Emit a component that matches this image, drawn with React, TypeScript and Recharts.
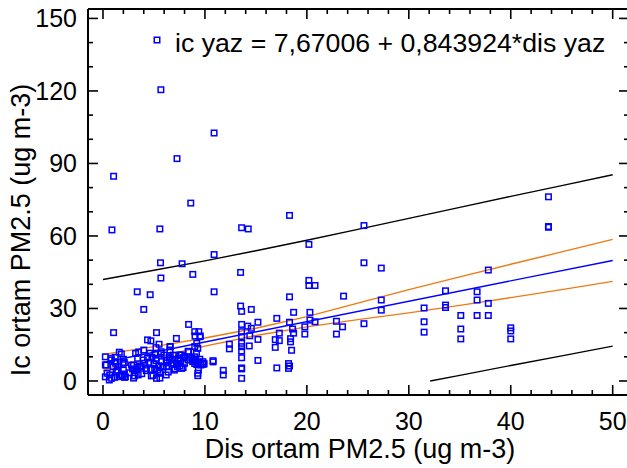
import React from 'react';
import { ScatterChart, Scatter, XAxis, YAxis } from 'recharts';

// Observed points: outdoor (dis) vs indoor (ic) PM2.5
const obsX = [
  5.68, 10.9, 7.26, 1.04, 8.61, 18.3, 0.88, 5.58, 13.6, 14.25, 20.2, 10.9, 5.64, 7.76, 8.81, 5.68, 13.5,
  20.2, 20.2, 20.8, 3.36, 4.63, 10.9, 18.3, 23.6, 4.0, 13.5, 13.6, 14.55, 18.7, 8.4, 1.04, 5.25, 20.3,
  20.8, 17.05, 15.2, 22.9, 23.5, 22.9, 18.3, 19.8, 19.8, 20.3, 13.6, 14.2, 14.55, 9.0, 9.4, 9.55, 7.2,
  9.03, 13.6, 13.6, 14.4, 14.35, 18.6, 18.7, 17.3, 15.2, 16.9, 17.3, 16.9, 18.4, 18.4, 18.5, 12.4, 12.4,
  13.6, 13.6, 13.6, 13.6, 15.2, 18.2, 18.2, 18.3, 17.05, 13.6, 13.6, 13.6, 11.8, 11.8, 10.8, 10.8, 9.9,
  9.36, 9.3, 8.35, 6.4,
  43.7, 43.7, 43.7, 25.6, 25.6, 27.3, 37.8, 25.6, 27.3, 27.3, 31.5, 31.5, 31.5, 33.6, 33.6, 33.6, 35.1,
  35.1, 35.1, 36.7, 36.7, 36.7, 37.8, 37.8, 40.0, 40.0, 40.0,
  0.23, 0.23, 0.23, 0.62, 0.85, 0.8, 1.0, 1.24, 1.34, 1.6, 1.8, 1.57, 1.9, 2.0, 2.1, 2.0, 1.45, 2.2, 2.1,
  3.0, 3.0, 3.2, 3.5, 3.06, 3.4, 3.45, 3.6, 3.95, 4.1, 4.24, 4.37, 4.5, 4.67, 4.9, 5.0, 5.1, 5.2, 5.25,
  5.35, 5.48, 5.58, 5.58, 5.7, 5.74, 5.87, 5.97, 6.23, 6.23, 6.6, 6.6, 6.9, 7.0, 7.05, 7.2, 7.4, 7.53,
  7.7, 7.86, 8.0, 8.4, 8.7, 8.84, 9.0, 9.1, 9.17, 9.3, 9.5, 9.2, 9.0, 9.5, 9.9,
  4.37, 4.7, 5.5, 5.2, 4.0, 4.6, 5.7, 7.55, 6.57, 6.57, 6.2, 6.4, 8.8, 9.0, 9.2, 9.4, 9.6, 9.1, 9.8,
  7.3, 7.6, 7.9, 6.8, 2.6, 2.9, 1.2, 0.4, 4.8, 3.8,
  0.81, 0.33, 1.15, 1.47, 1.96, 1.3, 0.66, 1.15, 1.8, 2.1, 2.8, 3.27, 3.1, 3.76, 4.25, 4.74, 5.07, 5.56,
  5.9, 6.2, 6.87, 7.0, 7.7, 8.0, 8.34, 9.0, 9.3, 9.8, 9.3, 6.5, 3.4, 5.2, 7.35,
];
const obsY = [
  120.5, 102.6, 92.0, 84.7, 73.6, 68.5, 62.5, 62.9, 63.4, 62.9, 56.5, 52.3, 48.9, 48.5, 44.1, 42.6, 44.9,
  41.6, 39.5, 39.5, 36.9, 35.7, 36.9, 34.8, 35.1, 29.6, 31.0, 28.8, 29.6, 28.4, 23.4, 20.0, 20.0, 28.4,
  24.5, 25.9, 24.3, 24.7, 22.4, 19.4, 24.3, 22.4, 19.4, 25.2, 23.4, 22.7, 21.8, 20.4, 20.4, 18.6, 17.6,
  18.6, 20.4, 18.3, 18.7, 14.5, 21.5, 19.8, 19.8, 17.2, 17.1, 16.7, 13.9, 17.5, 16.2, 12.7, 15.2, 13.3,
  15.6, 14.2, 12.4, 9.6, 8.5, 7.2, 5.2, 6.2, 5.4, 5.4, 5.0, 1.1, 4.4, 2.5, 8.4, 7.9, 7.3,
  4.5, 2.2, 12.3, 3.7,
  76.2, 63.6, 63.9, 64.3, 48.9, 46.7, 45.9, 23.7, 33.5, 29.3, 30.2, 24.5, 20.2, 37.3, 31.4, 30.4, 27.1,
  21.5, 17.4, 36.9, 33.5, 27.1, 32.1, 27.1, 22.0, 20.7, 17.4,
  10.0, 6.6, 1.7, 0.4, 1.1, 8.7, 5.9, 7.3, 3.8, 11.9, 11.2, 1.8, 2.1, 9.0, 7.6, 4.5, 4.5, 1.7, 2.9,
  1.2, 6.6, 11.4, 12.0, 4.3, 5.6, 2.5, 6.2, 8.7, 7.3, 5.2, 9.5, 7.7, 4.8, 2.3, 7.0, 11.2, 8.4, 1.1,
  4.5, 6.3, 3.2, 1.2, 11.4, 8.0, 5.9, 10.7, 5.9, 8.7, 14.2, 10.0, 10.7, 8.7, 5.1, 7.3, 9.4, 6.2,
  10.7, 5.5, 10.0, 12.1, 9.4, 8.7, 10.0, 8.3, 11.4, 13.5, 9.0, 15.6, 14.2, 18.3, 7.0,
  17.0, 16.6, 15.2, 13.8, 12.8, 11.5, 12.1, 10.8, 14.2, 12.8, 7.5, 6.0, 8.0, 7.2, 6.8, 7.6, 6.6, 8.7, 6.9,
  6.0, 8.2, 9.6, 9.0, 3.4, 5.0, 9.8, 3.2, 9.8, 3.0,
  9.4, 6.6, 8.0, 5.9, 7.3, 3.8, 2.5, 1.5, 2.5, 1.5, 6.6, 4.8, 2.1, 5.9, 4.3, 2.1, 5.2, 3.8,
  5.9, 2.5, 7.3, 4.5, 5.2, 7.3, 8.7, 8.7, 7.0, 8.0, 3.2, 9.4, 9.4, 9.4, 8.7,
];

// Fitted line: ic yaz = 7,67006 + 0,843924*dis yaz
const fitX = [0, 50];
const fitY = [7.67, 49.87];

// Confidence band (orange)
const bandX = [0, 5, 10, 15, 20, 25, 30, 35, 40, 45, 50];
const confUpper = [11.0, 14.2, 17.8, 21.8, 26.6, 32.2, 37.8, 43.1, 48.3, 53.4, 58.6];
const confLower = [4.4, 9.6, 14.4, 18.8, 22.4, 25.4, 28.2, 31.3, 34.5, 37.8, 41.2];

// Prediction band (black)
const predUpper = [42.0, 45.8, 49.7, 53.9, 58.2, 62.7, 67.3, 71.8, 76.4, 80.8, 85.3];
const predLowerX = [32.1, 35, 40, 45, 50];
const predLower = [0, 2.3, 6.4, 10.4, 14.4];

const xTicks = [0, 2, 4, 6, 8, 10, 12, 14, 16, 18, 20, 22, 24, 26, 28, 30, 32, 34, 36, 38, 40, 42, 44, 46, 48, 50];
const yTicks = [0, 10, 20, 30, 40, 50, 60, 70, 80, 90, 100, 110, 120, 130, 140, 150];

const legendText = 'ic yaz = 7,67006 + 0,843924*dis yaz';
const xTitle = 'Dis ortam PM2.5 (ug m-3)';
const yTitle = 'Ic ortam PM2.5 (ug m-3)';

const FONT = '"Liberation Sans", Arial, Helvetica, sans-serif';
const BLUE = '#0000ff';
const ORANGE = '#ee7a12';

const obsData = obsX.map((x, i) => ({ x, y: obsY[i] }));
const fitData = fitX.map((x, i) => ({ x, y: fitY[i] }));
const confUpData = bandX.map((x, i) => ({ x, y: confUpper[i] }));
const confLoData = bandX.map((x, i) => ({ x, y: confLower[i] }));
const predUpData = bandX.map((x, i) => ({ x, y: predUpper[i] }));
const predLoData = predLowerX.map((x, i) => ({ x, y: predLower[i] }));

const isMajor = (v: number, step: number) => Math.abs(Math.round(v) % step) === 0;

const BottomTick = (p: any) => {
  const v = p.payload.value;
  const major = isMajor(v, 10);
  return (
    <g>
      <line x1={p.x} x2={p.x} y1={p.y} y2={p.y - (major ? 10 : 5)} stroke="#000" strokeWidth={1.6} />
      {major && (
        <text x={p.x} y={p.y + 35} textAnchor="middle" fontSize={25} fontFamily={FONT} fill="#000">
          {v}
        </text>
      )}
    </g>
  );
};
const TopTick = (p: any) => {
  const v = p.payload.value;
  const major = isMajor(v, 10);
  return <line x1={p.x} x2={p.x} y1={p.y} y2={p.y + (major ? 10 : 5)} stroke="#000" strokeWidth={1.6} />;
};
const LeftTick = (p: any) => {
  const v = p.payload.value;
  const major = isMajor(v, 30);
  return (
    <g>
      <line x1={p.x} x2={p.x + (major ? 10 : 5)} y1={p.y} y2={p.y} stroke="#000" strokeWidth={1.6} />
      {major && (
        <text x={p.x - 11} y={p.y + 9} textAnchor="end" fontSize={25} fontFamily={FONT} fill="#000">
          {v}
        </text>
      )}
    </g>
  );
};
const RightTick = (p: any) => {
  const v = p.payload.value;
  const major = isMajor(v, 30);
  return <line x1={p.x} x2={p.x - (major ? 10 : 5)} y1={p.y} y2={p.y} stroke="#000" strokeWidth={1.6} />;
};

const Square = (p: any) => (
  <rect x={p.cx - 2.75} y={p.cy - 2.75} width={5.5} height={5.5} fill="none" stroke={BLUE} strokeWidth={1.5} />
);
const NoShape = () => <g />;

export default function App() {
  const axisLine = { stroke: '#000', strokeWidth: 2 };
  return (
    <div style={{ position: 'absolute', left: 0, top: 0, width: 627, height: 468, overflow: 'hidden', background: '#fff' }}>
      <ScatterChart width={640} height={468} margin={{ top: 8, right: 10, bottom: 0, left: 0 }}>
        <XAxis
          xAxisId="b"
          type="number"
          dataKey="x"
          orientation="bottom"
          domain={[-1.47, 51.6]}
          allowDataOverflow
          ticks={xTicks}
          interval={0}
          tick={(p: any) => <BottomTick {...p} />}
          tickLine={false}
          tickSize={0}
          tickMargin={0}
          axisLine={axisLine}
          height={73}
        />
        <XAxis
          xAxisId="t"
          type="number"
          dataKey="x"
          orientation="top"
          domain={[-1.47, 51.6]}
          allowDataOverflow
          ticks={xTicks}
          interval={0}
          tick={(p: any) => <TopTick {...p} />}
          tickLine={false}
          tickSize={0}
          tickMargin={0}
          axisLine={axisLine}
          height={1}
        />
        <YAxis
          yAxisId="l"
          type="number"
          dataKey="y"
          orientation="left"
          domain={[-5.8, 153.9]}
          allowDataOverflow
          ticks={yTicks}
          interval={0}
          tick={(p: any) => <LeftTick {...p} />}
          tickLine={false}
          tickSize={0}
          tickMargin={0}
          axisLine={axisLine}
          width={88}
        />
        <YAxis
          yAxisId="r"
          type="number"
          dataKey="y"
          orientation="right"
          domain={[-5.8, 153.9]}
          allowDataOverflow
          ticks={yTicks}
          interval={0}
          tick={(p: any) => <RightTick {...p} />}
          tickLine={false}
          tickSize={0}
          tickMargin={0}
          axisLine={axisLine}
          width={1}
        />
        <Scatter xAxisId="b" yAxisId="l" data={predUpData} line={{ stroke: '#000', strokeWidth: 1.4 }} shape={NoShape} isAnimationActive={false} />
        <Scatter xAxisId="b" yAxisId="l" data={predLoData} line={{ stroke: '#000', strokeWidth: 1.4 }} shape={NoShape} isAnimationActive={false} />
        <Scatter xAxisId="b" yAxisId="l" data={confUpData} line={{ stroke: ORANGE, strokeWidth: 1.4 }} shape={NoShape} isAnimationActive={false} />
        <Scatter xAxisId="b" yAxisId="l" data={confLoData} line={{ stroke: ORANGE, strokeWidth: 1.4 }} shape={NoShape} isAnimationActive={false} />
        <Scatter xAxisId="b" yAxisId="l" data={fitData} line={{ stroke: BLUE, strokeWidth: 1.4 }} shape={NoShape} isAnimationActive={false} />
        <Scatter xAxisId="b" yAxisId="l" data={obsData} shape={Square} isAnimationActive={false} />
      </ScatterChart>
      <svg width={627} height={468} style={{ position: 'absolute', left: 0, top: 0, pointerEvents: 'none' }}>
        <rect x={154.25} y={37.25} width={5.5} height={5.5} fill="none" stroke={BLUE} strokeWidth={1.5} />
        <text x={175} y={52} fontSize={26.7} fontFamily={FONT} fill="#000">{legendText}</text>
        <text x={360} y={458} textAnchor="middle" fontSize={27} fontFamily={FONT} fill="#000">{xTitle}</text>
        <text transform="translate(30,230) rotate(-90)" textAnchor="middle" fontSize={27} fontFamily={FONT} fill="#000">{yTitle}</text>
      </svg>
    </div>
  );
}
